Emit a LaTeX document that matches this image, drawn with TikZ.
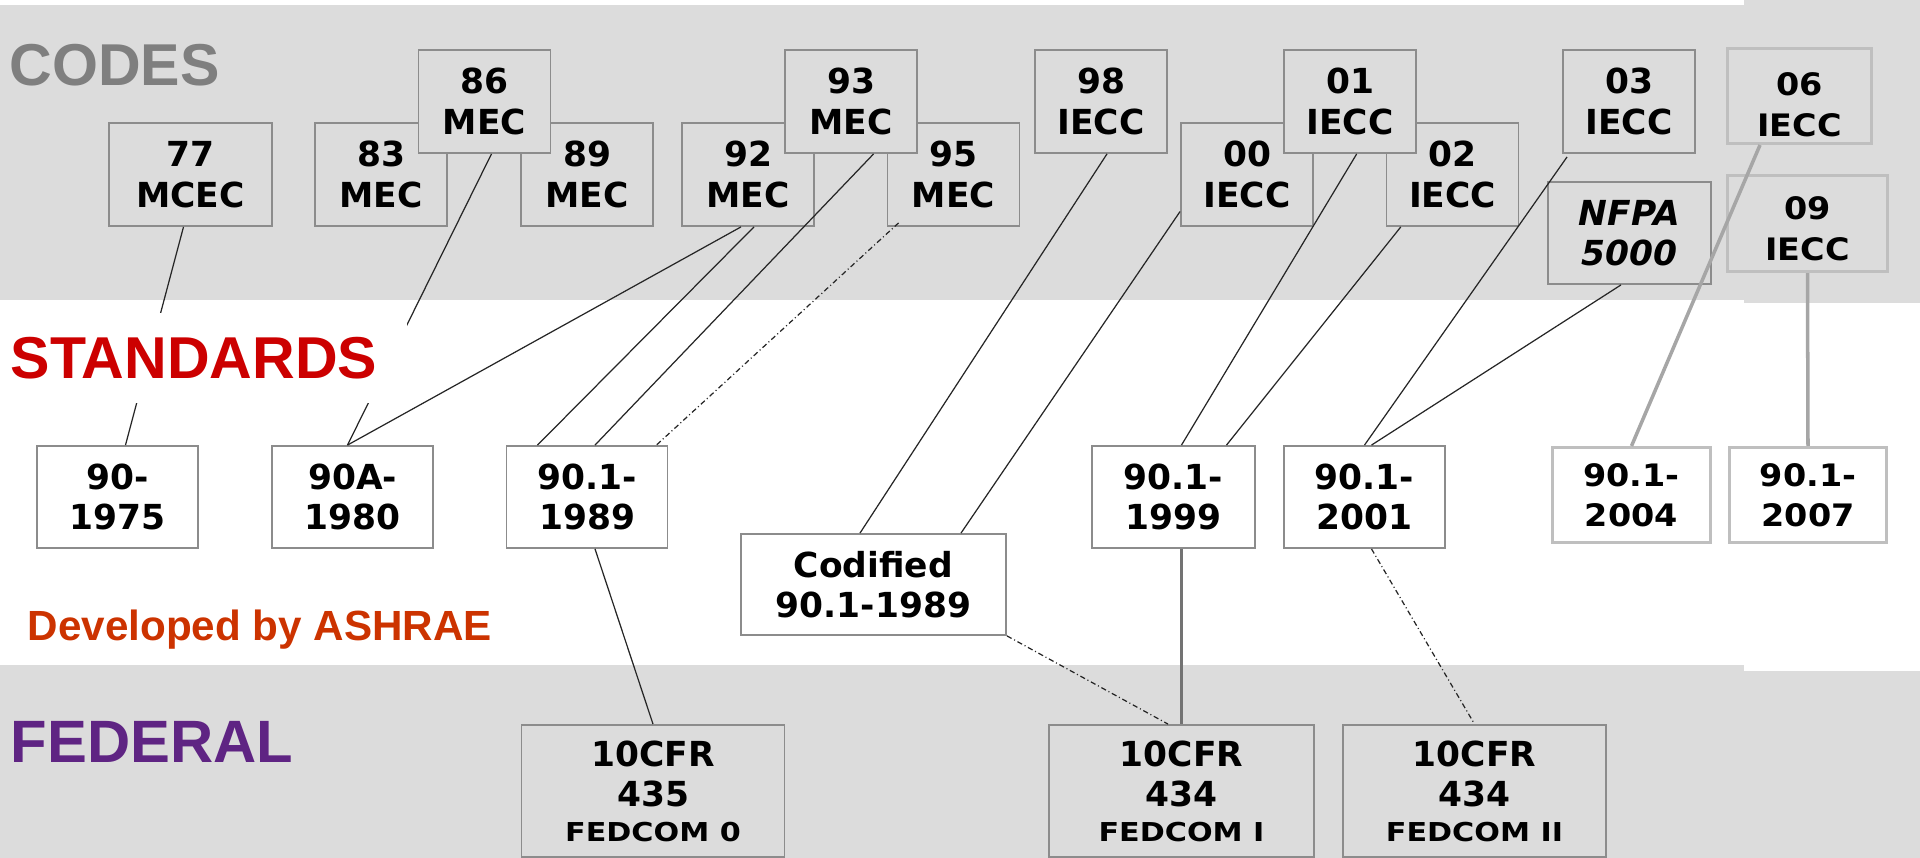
\documentclass[tikz,border=0pt]{standalone}
\usepackage{fontspec}
\usepackage{tikz}
\usetikzlibrary{calc}
\newfontfamily\boxface{DejaVu Sans}
\newfontfamily\fedface{DejaVu Sans}[FakeStretch=1.16]
\newfontfamily\lateface{DejaVu Sans}[FakeStretch=1.08]
\newfontfamily\bandface{Liberation Sans}
\newcommand\boxfont{\boxface\bfseries\fontsize{9.8}{11.5}\selectfont}
\newcommand\latefont{\lateface\bfseries\fontsize{8.8}{11.4}\selectfont}
\newcommand\fedsub{\fedface\bfseries\fontsize{7.4}{9}\selectfont}
\definecolor{band}{HTML}{DCDCDC}
\definecolor{boxline}{HTML}{8C8C8C}
\definecolor{newline}{HTML}{BFBFBF}
\definecolor{codegray}{HTML}{7F7F7F}
\definecolor{stdred}{HTML}{CC0000}
\definecolor{ashrae}{HTML}{CC3300}
\definecolor{fedpurple}{HTML}{5F2483}
\tikzset{
  box/.style={draw=boxline, line width=0.5pt, inner sep=0pt, align=center, font=\boxfont},
  codebox/.style={box, fill=band, minimum width=1.32cm, minimum height=1.03cm},
  stdbox/.style={box, fill=white, minimum width=1.61cm, minimum height=1.02cm},
  newbox/.style={draw=newline, line width=1pt},
  fedbox/.style={box, fill=band, minimum width=2.63cm, minimum height=1.32cm},
  bandlabel/.style={font=\bandface\bfseries\fontsize{16.8}{20}\selectfont, inner sep=0pt, anchor=base west},
  link/.style={draw=black!85, line width=0.35pt},
  dashlink/.style={link, dash pattern=on 1.5pt off 0.8pt on 0.3pt off 0.8pt},
  greylink/.style={draw=black!55, line width=0.7pt},
  newlink/.style={draw=black!35, line width=1pt},
}

\begin{document}
\begin{tikzpicture}[x=0.01cm, y=-0.01cm]
  \useasboundingbox (0,0) rectangle (1920,858);
  % bands
  \fill[band] (0,5) rectangle (1744,300);
  \fill[band] (1744,0) rectangle (1920,303);
  \fill[band] (0,665) rectangle (1744,858);
  \fill[band] (1744,671) rectangle (1920,858);

  % codes
  \node[codebox, minimum width=1.63cm] (c77) at (190.5,174.5) {77\\MCEC};
  \node[codebox] (c83) at (381,174.5) {83\\MEC};
  \node[codebox] (c89) at (587,174.5) {89\\MEC};
  \node[codebox] (c92) at (748,174.5) {92\\MEC};
  \node[codebox] (c95) at (953.5,174.5) {95\\MEC};
  \node[codebox] (c00) at (1247,174.5) {00\\IECC};
  \node[codebox] (c02) at (1452.5,174.5) {02\\IECC};
  \node[codebox] (c86) at (484.5,101.5) {86\\MEC};
  \node[codebox] (c93) at (851,101.5) {93\\MEC};
  \node[codebox] (c98) at (1101,101.5) {98\\IECC};
  \node[codebox] (c01) at (1350,101.5) {01\\IECC};
  \node[codebox] (c03) at (1629,101.5) {03\\IECC};
  \node[codebox, minimum width=1.63cm, minimum height=1.02cm, font={\boxfont\itshape}] (nfpa) at (1629.5,233) {NFPA\\5000};
  \node[codebox, newbox, font=\latefont, minimum width=1.435cm, minimum height=0.945cm] (c06) at (1799.5,96) {\rule{0pt}{11.5pt}06\\IECC};
  \node[codebox, newbox, font=\latefont, minimum width=1.595cm, minimum height=0.955cm] (c09) at (1807.5,223.5) {\rule{0pt}{9.5pt}09\\IECC};

  % standards
  \node[stdbox] (s75) at (117.5,497) {90-\\1975};
  \node[stdbox] (s80) at (352.5,497) {90A-\\1980};
  \node[stdbox] (s89) at (587,497) {90.1-\\1989};
  \node[stdbox, minimum width=1.63cm] (s99) at (1173.5,497) {90.1-\\1999};
  \node[stdbox] (s01) at (1364.5,497) {90.1-\\2001};
  \node[stdbox, newbox, font=\latefont, minimum width=1.575cm, minimum height=0.945cm] (s04) at (1631.5,495) {90.1-\\2004};
  \node[stdbox, newbox, font=\latefont, minimum width=1.565cm, minimum height=0.945cm] (s07) at (1808,495) {90.1-\\2007};
  \node[stdbox, minimum width=2.65cm, minimum height=1.01cm] (cod) at (873.5,584.5) {Codified\\90.1-1989};

  % federal
  \node[fedbox] (f435) at (653,791) {10CFR\\435\\[-1.7pt]\fedsub FEDCOM 0};
  \node[fedbox, minimum width=2.65cm] (f434a) at (1181.5,791) {10CFR\\434\\[-1.7pt]\fedsub FEDCOM I};
  \node[fedbox] (f434b) at (1474.5,791) {10CFR\\434\\[-1.7pt]\fedsub FEDCOM II};

  \foreach \a/\sa/\b/\sb in {c77/-7/s75/8, c86/7/s80/-5, c92/-7/s80/-5, c92/6/s89/-49.5,
      c93/22.6/s89/8, c98/6/cod/-13.5, c01/6.7/s99/8, c02/-51.7/s99/53, nfpa/-8.5/s01/7, s89/8/f435/0}
    \draw[link] ($(\a.south)+(\sa,0)$) -- ($(\b.north)+(\sb,0)$);
  \draw[link] ($(c00.west)+(0,37)$) -- ($(cod.north)+(87.5,0)$);
  \draw[link] ($(c03.south west)+(5,3)$) -- (s01.north);
  \draw[dashlink] ($(c95.south west)+(12,-4)$) -- ($(s89.north east)+(-12,0)$);
  \draw[dashlink] (cod.south east) -- ($(f434a.north)+(-13.5,0)$);
  \draw[dashlink] ($(s01.south)+(7,0)$) -- (f434b.north);
  \draw[greylink] ($(s99.south)+(8,0)$) -- (f434a.north);
  \draw[newlink] ($(c06.south)+(-39.5,0)$) -- (s04.north);
  \draw[newlink] (c09.south) -- (s07.north);

  % band labels
  \node[bandlabel, text=codegray] (codes) at (9,86) {CODES};
  \node[bandlabel, text=stdred, fill=white, anchor=west, text width=3.86cm, align=left,
    inner xsep=0.1cm, minimum height=0.9cm] (standards) at (0,358) {STANDARDS};
  \node[bandlabel, text=ashrae, font=\bandface\bfseries\fontsize{12}{14}\selectfont] (ashrae) at (27,641) {Developed by ASHRAE};
  \node[bandlabel, text=fedpurple, font=\bandface\bfseries\fontsize{17}{20}\selectfont] (federal) at (10,763) {FEDERAL};
\end{tikzpicture}
\end{document}
